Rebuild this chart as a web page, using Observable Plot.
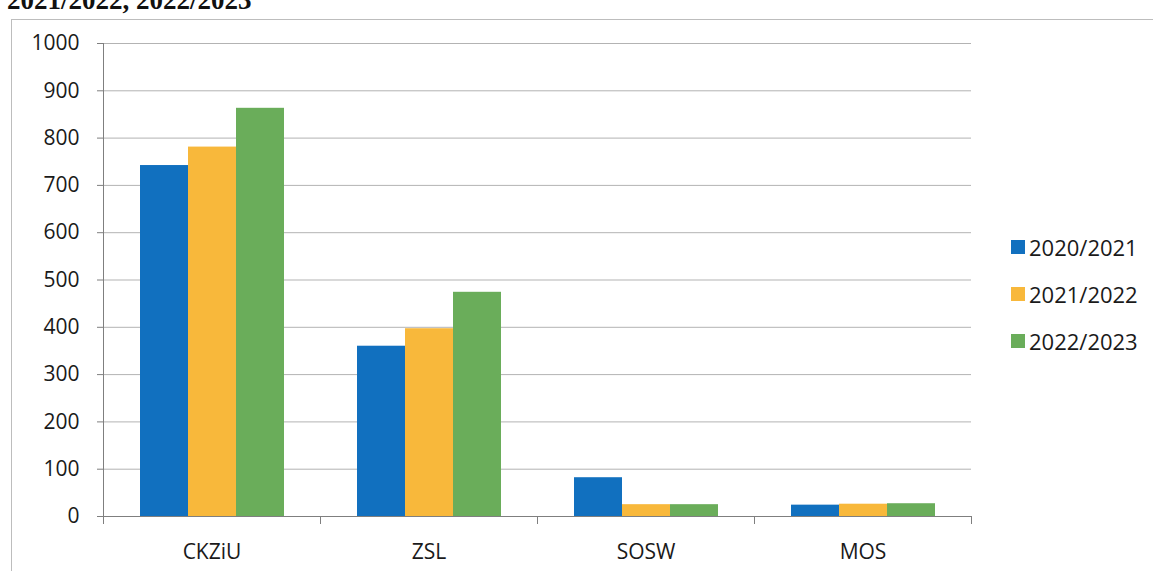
<!DOCTYPE html>
<html>
<head>
<meta charset="utf-8">
<script src="https://cdn.jsdelivr.net/npm/d3@7"></script>
<script src="https://cdn.jsdelivr.net/npm/@observablehq/plot@0.6"></script>
<style>
  body { margin: 0; background: #fff; overflow: hidden; }
  #wrap { position: relative; width: 1153px; height: 571px; overflow: hidden; background: #fff; }
  #frame { position: absolute; left: 11px; top: 19px; width: 1200px; height: 600px; border: 1px solid #bdbdbd; box-sizing: border-box; }
  #title { position: absolute; left: 7px; top: -13px; font: bold 27px/27px "Liberation Serif", serif; color: #111; white-space: nowrap; }
  #chart { position: absolute; left: 0; top: 0; }
  .leg { position: absolute; left: 1011px; height: 24px; display: flex; align-items: center; font: 22px "Open Sans", sans-serif; color: #1a1a1a; white-space: nowrap; }
  .leg i { display: inline-block; width: 14px; height: 14px; margin-right: 4px; }
</style>
</head>
<body>
<div id="wrap">
  <div id="frame"></div>
  <div id="title">2021/2022, 2022/2023</div>
  <div id="chart"></div>
  <div id="legend"></div>
</div>
<script>
const schools = ["CKZiU", "ZSL", "SOSW", "MOS"];
const years = ["2020/2021", "2021/2022", "2022/2023"];
const v2020 = [742, 360, 82, 24];
const v2021 = [781, 397, 25, 26];
const v2022 = [863, 474, 25, 27];
const yTicks = [0, 100, 200, 300, 400, 500, 600, 700, 800, 900, 1000];
const colors = ["#1170bf", "#f8b83b", "#6aad5a"];

const series = [v2020, v2021, v2022];
const rows = [];
schools.forEach((s, i) => years.forEach((yr, j) => rows.push({school: s, year: yr, value: series[j][i]})));

const chart = Plot.plot({
  width: 1153,
  height: 571,
  marginTop: 43,
  marginBottom: 55,
  marginLeft: 101,
  marginRight: 181,
  style: {fontFamily: "'Open Sans', sans-serif", fontSize: "21px", color: "#1a1a1a", background: "transparent"},
  fx: {domain: schools, padding: 0, label: null, tickSize: 0, tickPadding: 28},
  x: {domain: years, paddingInner: 0, paddingOuter: 0.754, axis: null},
  y: {domain: [0, 1000], ticks: yTicks, tickFormat: d => String(d), tickSize: 6, tickPadding: 18, label: null},
  color: {domain: years, range: colors},
  marks: [
    Plot.ruleY(yTicks.filter(d => d > 0), {stroke: "#b3b3b3", strokeWidth: 1}),
    Plot.barY(rows, {fx: "school", x: "year", y: "value", fill: "year"}),
    Plot.ruleY([0], {stroke: "#7f7f7f", strokeWidth: 1})
  ]
});
document.getElementById("chart").appendChild(chart);

// axis line and category boundary ticks, placed with the chart's own scales
const fx = chart.scale("fx"), y = chart.scale("y");
const svg = d3.select(chart);
const y0 = y.apply(0), y1 = y.apply(1000);
const g = svg.append("g").attr("stroke", "#7f7f7f").attr("stroke-width", 1);
g.append("line").attr("x1", fx.apply(schools[0]) + 0.5).attr("x2", fx.apply(schools[0]) + 0.5)
  .attr("y1", y1).attr("y2", y0);
const edges = schools.map(s => fx.apply(s)).concat([fx.apply(schools[schools.length - 1]) + fx.bandwidth]);
edges.forEach(e => g.append("line").attr("x1", e + 0.5).attr("x2", e + 0.5).attr("y1", y0).attr("y2", y0 + 8));
svg.selectAll("g[aria-label='y-axis tick'] path, g[aria-label='y-axis tick'] line").attr("stroke", "#7f7f7f");

// legend
const legend = document.getElementById("legend");
const centers = [247, 294, 341];
years.forEach((yr, j) => {
  const d = document.createElement("div");
  d.className = "leg";
  d.style.top = (centers[j] - 12) + "px";
  d.innerHTML = `<i style="background:${colors[j]}"></i><span>${yr}</span>`;
  legend.appendChild(d);
});
</script>
</body>
</html>
